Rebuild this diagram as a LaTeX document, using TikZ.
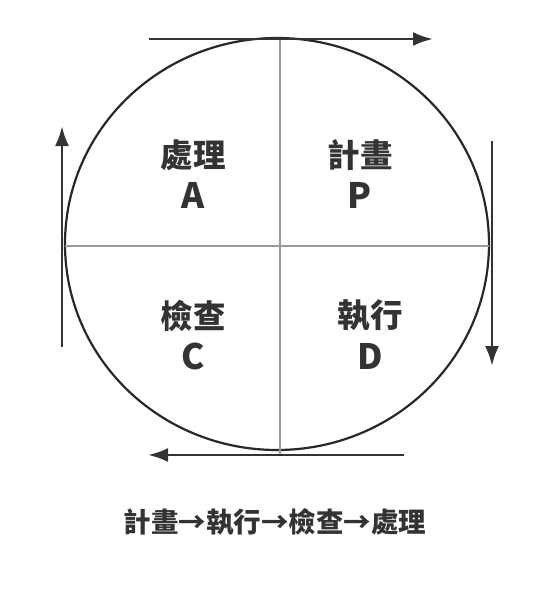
\documentclass[tikz,border=0pt]{standalone}
\usepackage{fontspec}
\newfontfamily\cjk{Noto Sans CJK TC}
\usetikzlibrary{arrows.meta,positioning}

\definecolor{rim}{HTML}{23292F}
\definecolor{ink}{HTML}{333333}
\definecolor{divider}{HTML}{9A9A9A}

\tikzset{
  quad/.style={text=ink, font=\cjk\bfseries\fontsize{32.5}{35}\selectfont, inner sep=0pt},
  letter/.style={text=ink, font=\cjk\bfseries\fontsize{35}{37}\selectfont, inner sep=0pt},
  cycle/.style={line width=2.8pt, color=ink, -{Latex[length=20pt,width=14pt]}}
}

\begin{document}
\begin{tikzpicture}[x=1pt,y=1pt]
  \useasboundingbox (0,0) rectangle (552,-592);

  % circle and quadrants
  \draw [line width=2.2pt, color=rim] (277,-244) ellipse [x radius=212pt, y radius=206pt];
  \draw [line width=1.5pt, color=divider] (65,-246) -- (489,-246);
  \draw [line width=1.5pt, color=divider] (280,-38) -- (280,-454);

  \node [quad] (act) at (193,-155) {處理};
  \node [letter] (actA) at (193,-195) {A};
  \node [quad] (plan) at (360,-155) {計畫};
  \node [letter] (planP) at (360,-195) {P};
  \node [quad] (check) at (193,-316) {檢查};
  \node [letter] (checkC) at (193,-356) {C};
  \node [quad] (do) at (370,-316) {執行};
  \node [letter] (doD) at (370,-356) {D};

  % arrows round the circle
  \coordinate (topL) at (149,-39);
  \coordinate (topR) at (433,-39);
  \coordinate (rightT) at (492,-141);
  \coordinate (rightB) at (492,-366);
  \coordinate (botR) at (404,-455);
  \coordinate (botL) at (148,-455);
  \coordinate (leftB) at (62,-347);
  \coordinate (leftT) at (62,-126);

  \draw [cycle] (topL) -- (topR);
  \draw [cycle] (rightT) -- (rightB);
  \draw [cycle] (botR) -- (botL);
  \draw [cycle] (leftB) -- (leftT);

  \node [text=ink, font=\cjk\bfseries\fontsize{27.5}{30}\selectfont] (order) at (275,-522) {計畫→執行→檢查→處理};
\end{tikzpicture}
\end{document}
